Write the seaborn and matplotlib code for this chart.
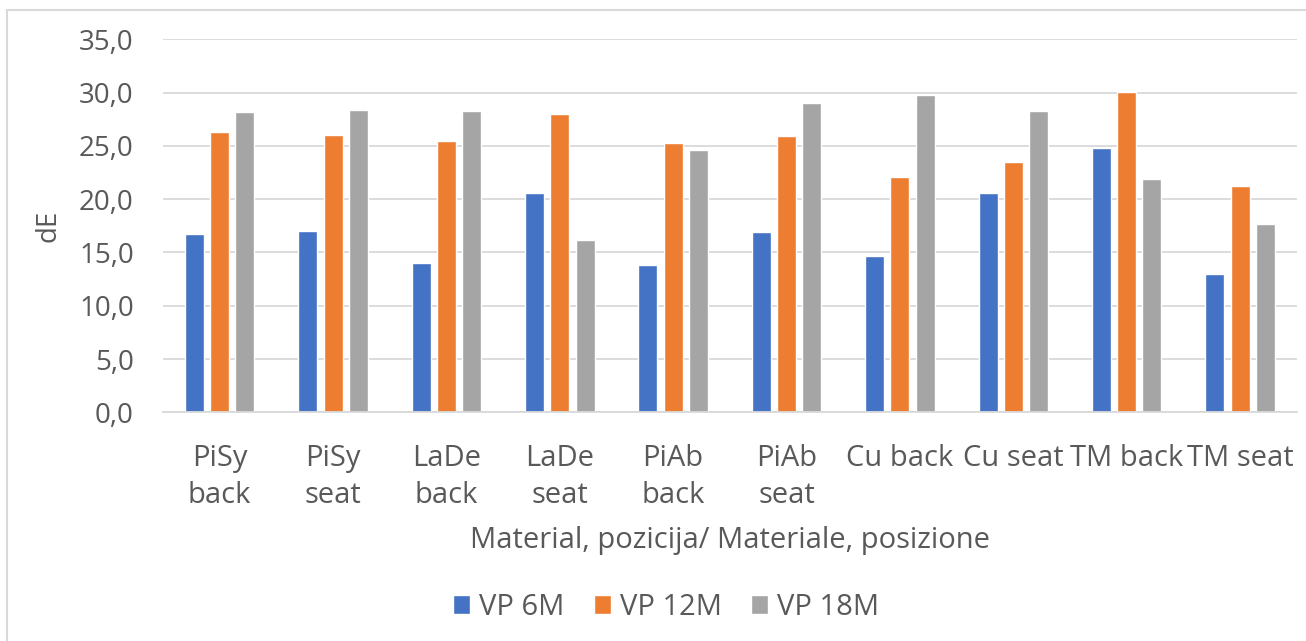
import matplotlib
matplotlib.use("Agg")
import matplotlib.pyplot as plt
from matplotlib.patches import Rectangle
from matplotlib.ticker import FuncFormatter, MultipleLocator
import pandas as pd
import seaborn as sns

categories = ["PiSy\nback", "PiSy\nseat", "LaDe\nback", "LaDe\nseat", "PiAb\nback",
              "PiAb\nseat", "Cu back", "Cu seat", "TM back", "TM seat"]
series = ["VP 6M", "VP 12M", "VP 18M"]
vp_6m = [16.7, 17.0, 14.0, 20.6, 13.8, 16.9, 14.7, 20.6, 24.8, 13.0]
vp_12m = [26.3, 26.0, 25.5, 28.0, 25.3, 25.9, 22.1, 23.5, 30.1, 21.2]
vp_18m = [28.2, 28.4, 28.3, 16.2, 24.6, 29.0, 29.8, 28.3, 21.9, 17.7]
colors = ["#4472C4", "#ED7D31", "#A5A5A5"]
text_color = "#595959"

df = pd.DataFrame({
    "category": categories * 3,
    "series": [s for s in series for _ in categories],
    "dE": vp_6m + vp_12m + vp_18m,
})

sns.set_theme(style="white")
plt.rcParams["font.family"] = ["Open Sans", "DejaVu Sans"]

fig = plt.figure(figsize=(13.06, 6.41), dpi=100)
ax = fig.add_axes([0.1248, 0.3568, 0.8681, 0.5817])

sns.barplot(data=df, x="category", y="dE", hue="series", palette=colors,
            order=categories, hue_order=series, width=0.668, gap=0.25,
            saturation=1.0, ax=ax, legend=True)

ax.set_xlim(-0.5, 9.5)
ax.set_ylim(0, 35)
ax.yaxis.set_major_locator(MultipleLocator(5))
ax.yaxis.set_major_formatter(FuncFormatter(lambda v, _: f"{v:.1f}".replace(".", ",")))
ax.grid(axis="y", color="#D9D9D9", linewidth=1.3)
ax.set_axisbelow(True)
for side in ["left", "right", "top"]:
    ax.spines[side].set_visible(False)
ax.spines["bottom"].set_color("#D9D9D9")
ax.spines["bottom"].set_linewidth(1.3)

ax.tick_params(axis="y", length=0, pad=21, labelsize=20, labelcolor=text_color)
ax.tick_params(axis="x", length=0, pad=23, labelsize=21, labelcolor=text_color)
for lbl in ax.get_xticklabels():
    lbl.set_linespacing(1.34)

ax.set_ylabel("dE", fontsize=20, color=text_color, labelpad=12)
ax.set_xlabel("Material, pozicija/ Materiale, posizione", fontsize=21,
              color=text_color, labelpad=12)

handles, labels = ax.get_legend_handles_labels()
ax.get_legend().remove()
fig.legend(handles, labels, loc="center", bbox_to_anchor=(0.51, 0.053), ncol=3,
           frameon=False, fontsize=21, labelcolor=text_color, handlelength=0.6,
           handleheight=0.6, handletextpad=0.3, columnspacing=1.0)

fig.patches.append(Rectangle((7 / 1306, -0.1), 1.2, 1 - 10 / 641 + 0.1,
                             transform=fig.transFigure, fill=False,
                             edgecolor="#D9D9D9", linewidth=1.5))

fig.savefig("out.png", dpi=100, facecolor="white")
